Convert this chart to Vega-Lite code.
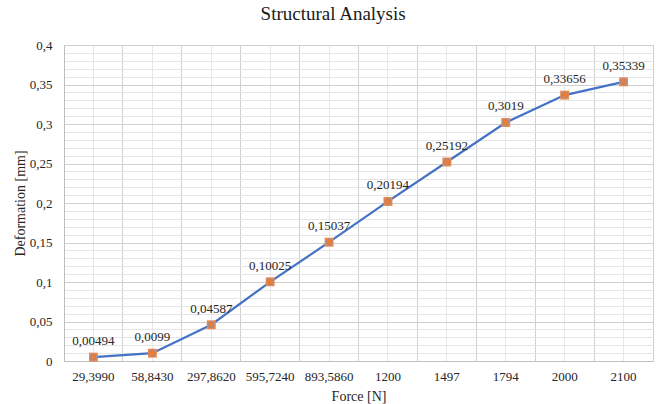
{
  "$schema": "https://vega.github.io/schema/vega-lite/v6.json",
  "width": 589,
  "height": 316,
  "autosize": "none",
  "padding": {"left": 64, "top": 45, "right": 3, "bottom": 43},
  "background": "white",
  "title": {"text": "Structural Analysis", "font": "Times New Roman, Liberation Serif, DejaVu Serif, serif", "fontSize": 19, "fontWeight": "normal", "color": "#1a1a1a", "anchor": "middle", "frame": "bounds", "offset": 15},
  "data": {"values": [
    {"force": "29,3990", "deformation": 0.00494},
    {"force": "58,8430", "deformation": 0.0099},
    {"force": "297,8620", "deformation": 0.04587},
    {"force": "595,7240", "deformation": 0.10025},
    {"force": "893,5860", "deformation": 0.15037},
    {"force": "1200", "deformation": 0.20194},
    {"force": "1497", "deformation": 0.25192},
    {"force": "1794", "deformation": 0.3019},
    {"force": "2000", "deformation": 0.33656},
    {"force": "2100", "deformation": 0.35339}
  ]},
  "resolve": {"axis": {"x": "independent", "y": "independent"}},
  "layer": [
    {
      "mark": {"type": "line", "color": "#4472C4", "strokeWidth": 2.2},
      "encoding": {
        "x": {"field": "force", "type": "ordinal", "sort": null, "bandPosition": 0.5,
          "scale": {"type": "band", "paddingInner": 0, "paddingOuter": 0},
          "axis": {"title": "Force [N]", "orient": "bottom", "labelAngle": 0, "bandPosition": 0.5, "ticks": false, "labelPadding": 9,
            "grid": true, "gridColor": "#E6E6E6", "gridWidth": 1, "domainColor": "#BFBFBF", "titlePadding": 6}},
        "y": {"field": "deformation", "type": "quantitative",
          "scale": {"domain": [0, 0.4], "nice": false},
          "axis": {"title": "Deformation [mm]", "orient": "left", "values": [0, 0.05, 0.1, 0.15, 0.2, 0.25, 0.3, 0.35, 0.4], "format": "~g",
            "ticks": false, "labelPadding": 12, "grid": true, "gridColor": "#D0D0D0", "domainColor": "#BFBFBF", "titlePadding": 2}}
      }
    },
    {
      "mark": {"type": "square", "filled": true, "color": "#F0894A", "size": 80, "opacity": 1},
      "encoding": {
        "x": {"field": "force", "type": "ordinal", "sort": null, "bandPosition": 0.5,
          "axis": {"orient": "top", "bandPosition": 0, "labels": false, "ticks": false, "domain": false, "title": null, "grid": true, "gridColor": "#D0D0D0"}},
        "y": {"field": "deformation", "type": "quantitative",
          "axis": {"orient": "right", "labels": false, "ticks": false, "domain": false, "title": null, "grid": true, "gridColor": "#E6E6E6",
            "values": [0.01, 0.02, 0.03, 0.04, 0.06, 0.07, 0.08, 0.09, 0.11, 0.12, 0.13, 0.14, 0.16, 0.17, 0.18, 0.19, 0.21, 0.22, 0.23, 0.24, 0.26, 0.27, 0.28, 0.29, 0.31, 0.32, 0.33, 0.34, 0.36, 0.37, 0.38, 0.39]}}
      }
    },
    {
      "mark": {"type": "circle", "color": "#ED7D31", "size": 40, "opacity": 1, "stroke": "#7090C8", "strokeWidth": 0.7},
      "encoding": {
        "x": {"field": "force", "type": "ordinal", "sort": null, "bandPosition": 0.5, "axis": null},
        "y": {"field": "deformation", "type": "quantitative", "axis": null}
      }
    },
    {
      "mark": {"type": "text", "font": "Times New Roman, Liberation Serif, DejaVu Serif, serif", "fontSize": 13, "color": "#262626", "baseline": "middle", "dy": -16},
      "encoding": {
        "x": {"field": "force", "type": "ordinal", "sort": null, "bandPosition": 0.5, "axis": null},
        "y": {"field": "deformation", "type": "quantitative", "axis": null},
        "text": {"field": "deformation", "type": "quantitative", "format": "~g"}
      }
    }
  ],
  "config": {
    "locale": {"number": {"decimal": ",", "thousands": ".", "grouping": [3], "currency": ["", " €"]}},
    "view": {"stroke": "#D0D0D0"},
    "axis": {"labelFont": "Times New Roman, Liberation Serif, DejaVu Serif, serif", "labelFontSize": 13, "labelColor": "#262626", "titleFont": "Times New Roman, Liberation Serif, DejaVu Serif, serif", "titleFontSize": 14, "titleFontWeight": "normal", "titleColor": "#262626"}
  }
}
